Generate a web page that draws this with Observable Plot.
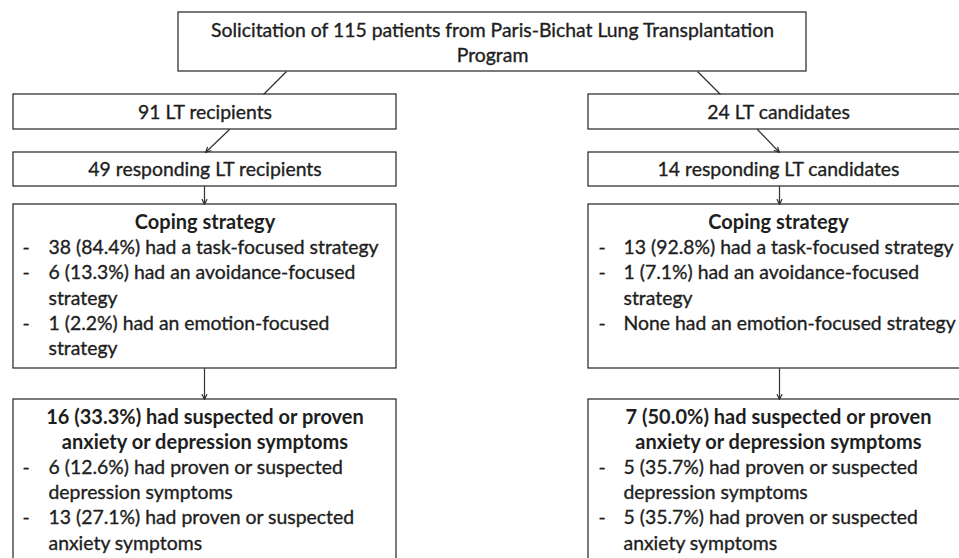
<!DOCTYPE html>
<html><head><meta charset="utf-8">
<script src="https://cdn.jsdelivr.net/npm/d3@7"></script>
<script src="https://cdn.jsdelivr.net/npm/@observablehq/plot@0.6"></script>
<style>body{margin:0;background:#fff}</style>
</head><body><div id="chart"></div>
<script>
// ---- Data (text content and counts) ----
const topLabel = ["Solicitation of 115 patients from Paris-Bichat Lung Transplantation", "Program"];
const groupLabels = ["91 LT recipients", "24 LT candidates"];
const respondLabels = ["49 responding LT recipients", "14 responding LT candidates"];
const copingTitle = "Coping strategy";
const copingLeft = [["38 (84.4%) had a task-focused strategy"], ["6 (13.3%) had an avoidance-focused", "strategy"], ["1 (2.2%) had an emotion-focused", "strategy"]];
const copingRight = [["13 (92.8%) had a task-focused strategy"], ["1 (7.1%) had an avoidance-focused", "strategy"], ["None had an emotion-focused strategy"]];
const anxTitleLeft = ["16 (33.3%) had suspected or proven", "anxiety or depression symptoms"];
const anxTitleRight = ["7 (50.0%) had suspected or proven", "anxiety or depression symptoms"];
const anxLeft = [["6 (12.6%) had proven or suspected", "depression symptoms"], ["13 (27.1%) had proven or suspected", "anxiety symptoms"]];
const anxRight = [["5 (35.7%) had proven or suspected", "depression symptoms"], ["5 (35.7%) had proven or suspected", "anxiety symptoms"]];

// ---- Layout (diagram geometry) ----
const cols = [{x1: 13, x2: 396, cx: 204.5, dash: 22, tx: 48}, {x1: 588, x2: 968, cx: 778, dash: 598, tx: 623}];
const rows = {top: [12, 71], group: [94, 129], resp: [152, 186], coping: [204, 368], anx: [399, 575]};
const lineH = 25.3;

const boxes = [{x1: 178, x2: 806, y1: rows.top[0], y2: rows.top[1]}];
cols.forEach(c => {
  for (const k of ["group", "resp", "coping", "anx"]) boxes.push({x1: c.x1, x2: c.x2, y1: rows[k][0], y2: rows[k][1]});
});

const centered = [];   // regular weight, centred
const headers = [];    // bold, centred
const leftAligned = []; // regular weight, bullets
centered.push({x: 492, y: 30, t: topLabel[0]});
centered.push({x: 492, y: 55, t: topLabel[1]});
cols.forEach((c, i) => {
  centered.push({x: c.cx, y: 112, t: groupLabels[i]});
  centered.push({x: c.cx, y: 169, t: respondLabels[i]});
  headers.push({x: c.cx, y: 222, t: copingTitle});
  let y = 222 + lineH;
  for (const item of (i === 0 ? copingLeft : copingRight)) {
    leftAligned.push({x: c.dash, y, t: "-"});
    item.forEach(l => { leftAligned.push({x: c.tx, y, t: l}); y += lineH; });
  }
  const at = i === 0 ? anxTitleLeft : anxTitleRight;
  headers.push({x: c.cx, y: 417, t: at[0]});
  headers.push({x: c.cx, y: 442, t: at[1]});
  y = 467;
  for (const item of (i === 0 ? anxLeft : anxRight)) {
    leftAligned.push({x: c.dash, y, t: "-"});
    item.forEach(l => { leftAligned.push({x: c.tx, y, t: l}); y += lineH; });
  }
});

const plainLinks = [{x1: 286, y1: 71, x2: 263, y2: 94}, {x1: 697, y1: 71, x2: 720, y2: 94}];
const arrows = [
  {x1: 229, y1: 129, x2: 205, y2: 152}, {x1: 757, y1: 129, x2: 779, y2: 152},
  {x1: 204, y1: 186, x2: 204, y2: 204}, {x1: 779, y1: 186, x2: 779, y2: 204},
  {x1: 204, y1: 368, x2: 204, y2: 399}, {x1: 779, y1: 368, x2: 779, y2: 399}
];

const ink = "#1e1e1e";
const regular = {x: "x", y: "y", text: "t", fill: ink, stroke: ink, strokeWidth: 0.35, fontWeight: "normal", fontSize: 19.4};
const chart = Plot.plot({
  width: 959, height: 558, margin: 0,
  x: {domain: [0, 959], range: [0, 959], axis: null},
  y: {domain: [0, 558], range: [0, 558], axis: null},
  style: {fontFamily: "Lato, 'Open Sans', sans-serif", fontSize: "20px", background: "#fff"},
  marks: [
    Plot.rect(boxes, {x1: "x1", x2: "x2", y1: "y1", y2: "y2", fill: "#fff", stroke: "#333", strokeWidth: 1.3}),
    Plot.link(plainLinks, {x1: "x1", y1: "y1", x2: "x2", y2: "y2", stroke: "#333", strokeWidth: 1.2}),
    Plot.arrow(arrows, {x1: "x1", y1: "y1", x2: "x2", y2: "y2", stroke: "#333", strokeWidth: 1.2, headLength: 7, headAngle: 50}),
    Plot.text(centered, {...regular, textAnchor: "middle"}),
    Plot.text(leftAligned, {...regular, textAnchor: "start"}),
    Plot.text(headers, {x: "x", y: "y", text: "t", textAnchor: "middle", fill: ink, fontWeight: "bold", fontSize: 20})
  ]
});
document.getElementById("chart").appendChild(chart);
</script>
</body></html>
